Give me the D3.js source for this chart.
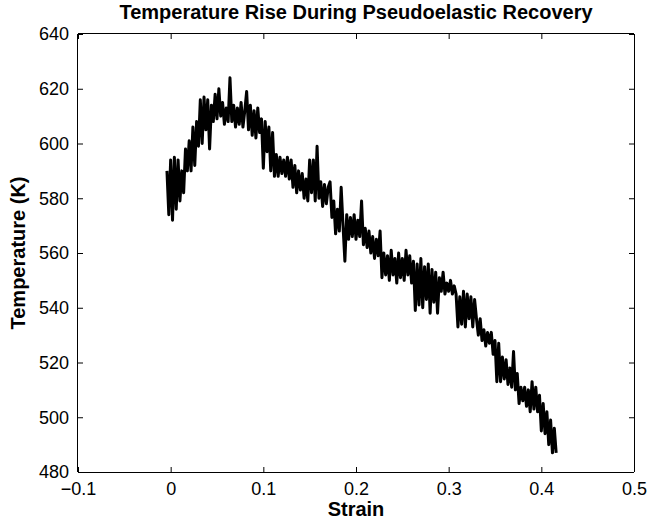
<!DOCTYPE html>
<html>
<head>
<meta charset="utf-8">
<script src="https://cdn.jsdelivr.net/npm/d3@7"></script>
<style>
  html, body { margin: 0; padding: 0; background: #fff; }
  svg { display: block; font-family: "Liberation Sans", Arial, sans-serif; }
</style>
</head>
<body>
<svg id="chart" width="649" height="525"></svg>
<script>
// ---- Data ----
const strain = [
 -0.004,-0.002,0.000,0.002,0.004,0.006,0.008,0.010,0.012,0.014,
  0.016,0.018,0.020,0.022,0.024,0.026,0.028,0.030,0.032,0.034,
  0.036,0.038,0.040,0.042,0.044,0.046,0.048,0.050,0.052,0.054,
  0.056,0.058,0.060,0.062,0.064,0.066,0.068,0.070,0.072,0.074,
  0.076,0.078,0.080,0.082,0.084,0.086,0.088,0.090,0.092,0.094,
  0.096,0.098,0.100,0.102,0.104,0.106,0.108,0.110,0.112,0.114,
  0.116,0.118,0.120,0.122,0.124,0.126,0.128,0.130,0.132,0.134,
  0.136,0.138,0.140,0.142,0.144,0.146,0.148,0.150,0.152,0.154,
  0.156,0.158,0.160,0.162,0.164,0.166,0.168,0.170,0.172,0.174,
  0.176,0.178,0.180,0.182,0.184,0.186,0.188,0.190,0.192,0.194,
  0.196,0.198,0.200,0.202,0.204,0.206,0.208,0.210,0.212,0.214,
  0.216,0.218,0.220,0.222,0.224,0.226,0.228,0.230,0.232,0.234,
  0.236,0.238,0.240,0.242,0.244,0.246,0.248,0.250,0.252,0.254,
  0.256,0.258,0.260,0.262,0.264,0.266,0.268,0.270,0.272,0.274,
  0.276,0.278,0.280,0.282,0.284,0.286,0.288,0.290,0.292,0.294,
  0.296,0.298,0.300,0.302,0.304,0.306,0.308,0.310,0.312,0.314,
  0.316,0.318,0.320,0.322,0.324,0.326,0.328,0.330,0.332,0.334,
  0.336,0.338,0.340,0.342,0.344,0.346,0.348,0.350,0.352,0.354,
  0.356,0.358,0.360,0.362,0.364,0.366,0.368,0.370,0.372,0.374,
  0.376,0.378,0.380,0.382,0.384,0.386,0.388,0.390,0.392,0.394,
  0.396,0.398,0.400,0.402,0.404,0.406,0.408,0.410,0.412,0.414,
  0.416
];
const temperature = [
  590,574,594,572,595,576,594,579,590,582,
  598,590,601,590,606,592,608,599,616,600,
  617,605,616,598,614,608,618,609,620,610,
  615,607,613,608,624,608,614,606,613,607,
  615,606,612,619,605,614,603,612,602,613,
  604,609,591,608,597,606,590,604,588,596,
  588,595,589,594,588,595,587,594,584,592,
  582,590,583,589,580,587,579,594,582,594,
  579,599,580,586,577,585,578,584,586,573,
  579,567,576,568,584,570,557,574,565,573,
  566,574,565,572,566,579,563,569,562,568,
  560,566,558,565,559,568,551,560,552,559,
  550,561,552,558,549,560,551,558,550,561,
  552,559,549,557,539,556,541,558,540,555,
  543,556,538,554,542,553,538,551,546,553,
  545,549,546,550,545,548,545,533,544,534,
  546,533,545,536,544,533,543,536,530,536,
  528,532,526,531,527,531,523,528,513,527,
  513,522,514,521,512,518,511,524,510,516,
  505,511,506,511,504,510,502,513,503,511,
  502,508,495,505,494,502,490,499,487,496,
  487
];
const xTicks = [-0.1, 0, 0.1, 0.2, 0.3, 0.4, 0.5];
const xTickLabels = ["\u22120.1", "0", "0.1", "0.2", "0.3", "0.4", "0.5"];
const yTicks = [480, 500, 520, 540, 560, 580, 600, 620, 640];
const titleText = "Temperature Rise During Pseudoelastic Recovery";
const xLabelText = "Strain";
const yLabelText = "Temperature (K)";

// ---- Layout ----
const svg = d3.select("#chart");
const L = 78, R = 634, T = 34, B = 472;

const x = d3.scaleLinear().domain([-0.1, 0.5]).range([L, R]);
const y = d3.scaleLinear().domain([480, 640]).range([B, T]);

const tickLen = 5;
const fontSize = 18;

// Data line
const pts = strain.map((s, i) => [s, temperature[i]]);
const line = d3.line().x(d => x(d[0])).y(d => y(d[1]));
svg.append("path")
  .datum(pts)
  .attr("d", line)
  .attr("fill", "none")
  .attr("stroke", "#000")
  .attr("stroke-width", 3)
  .attr("stroke-linejoin", "round");

// Axes
const xAxisB = d3.axisBottom(x).tickValues(xTicks).tickSize(-tickLen)
  .tickFormat((d, i) => xTickLabels[i]).tickPadding(10);
const xAxisT = d3.axisTop(x).tickValues(xTicks).tickSize(-tickLen).tickFormat("");
const yAxisL = d3.axisLeft(y).tickValues(yTicks).tickSize(-tickLen)
  .tickFormat(d3.format("d")).tickPadding(9);
const yAxisR = d3.axisRight(y).tickValues(yTicks).tickSize(-tickLen).tickFormat("");

function style(g) {
  g.selectAll("path.domain").attr("stroke", "#000").attr("stroke-width", 1);
  g.selectAll(".tick line").attr("stroke", "#000").attr("stroke-width", 1);
  g.selectAll(".tick text").attr("fill", "#000")
    .attr("font-size", fontSize)
    .attr("font-family", "'Liberation Sans', Arial, sans-serif");
}

svg.append("g").attr("transform", `translate(0,${B})`).call(xAxisB).call(style)
  .call(g => g.selectAll("path.domain").attr("d", `M${L},0.5H${R}`));
svg.append("g").attr("transform", `translate(0,${T})`).call(xAxisT).call(style)
  .call(g => g.selectAll("path.domain").attr("d", `M${L},-0.5H${R}`));
svg.append("g").attr("transform", `translate(${L},0)`).call(yAxisL).call(style)
  .call(g => g.selectAll("path.domain").attr("d", `M-0.5,${T}V${B}`));
svg.append("g").attr("transform", `translate(${R},0)`).call(yAxisR).call(style)
  .call(g => g.selectAll("path.domain").attr("d", `M0.5,${T}V${B}`));

// Title and labels
svg.append("text")
  .attr("x", (L + R) / 2).attr("y", 19)
  .attr("text-anchor", "middle")
  .attr("font-size", 20).attr("font-weight", "bold")
  .text(titleText);

svg.append("text")
  .attr("x", (L + R) / 2).attr("y", 516)
  .attr("text-anchor", "middle")
  .attr("font-size", 20).attr("font-weight", "bold")
  .text(xLabelText);

svg.append("text")
  .attr("transform", `translate(25,${(T + B) / 2}) rotate(-90)`)
  .attr("text-anchor", "middle")
  .attr("font-size", 20).attr("font-weight", "bold")
  .text(yLabelText);
</script>
</body>
</html>
